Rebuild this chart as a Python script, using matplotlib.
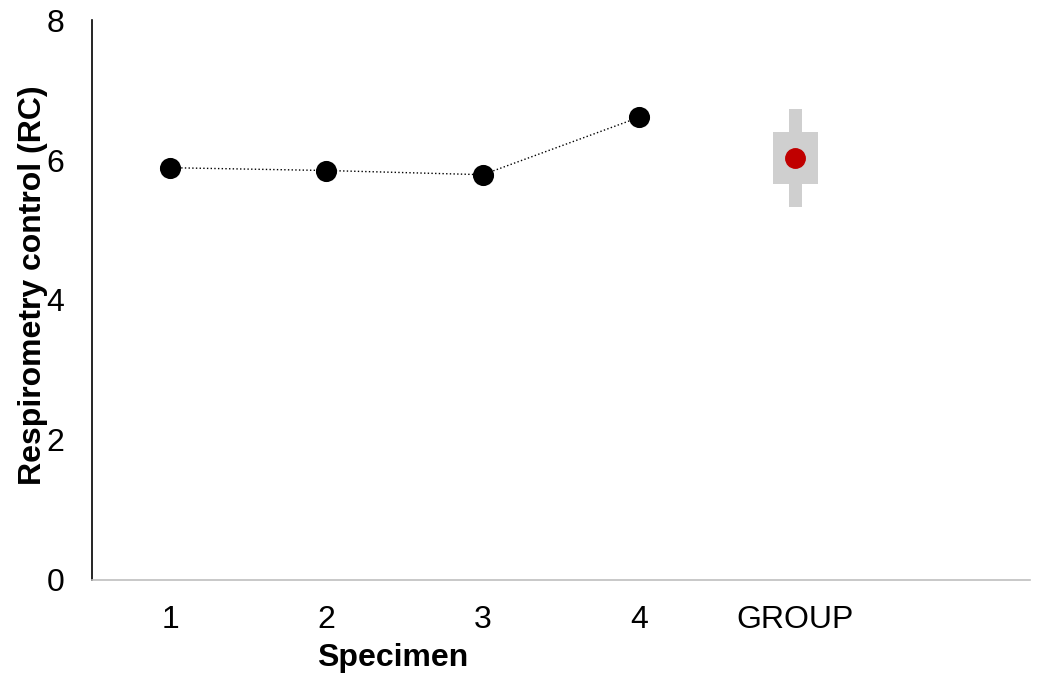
import matplotlib.pyplot as plt
import numpy as np

plt.rcParams['font.family'] = ['Liberation Sans', 'DejaVu Sans']

specimens = ['1', '2', '3', '4']
rc_values = [5.89, 5.85, 5.79, 6.61]

group_label = 'GROUP'
group_mean = 6.03
group_box = (5.66, 6.40)      # inner band
group_whisker = (5.33, 6.73)  # outer range

x_spec = np.arange(1, len(specimens) + 1)
x_group = len(specimens) + 1

fig = plt.figure(figsize=(10.38, 6.74), dpi=100)
ax = fig.add_axes([0.0886, 0.1395, 0.9036, 0.8308])

# group summary: thin whisker bar behind the wider box
ax.bar(x_group, group_whisker[1] - group_whisker[0], bottom=group_whisker[0],
       width=0.083, color='#cfcfcf', zorder=1)
ax.bar(x_group, group_box[1] - group_box[0], bottom=group_box[0],
       width=0.29, color='#cfcfcf', zorder=1)
ax.plot([x_group], [group_mean], 'o', ms=14, color='#c00000', zorder=3)

# individual specimens
ax.plot(x_spec, rc_values, ':', color='black', lw=1, zorder=2)
ax.plot(x_spec, rc_values, 'o', ms=14, color='black', mec='black',
        mew=1.2, zorder=3)

ax.set_xlim(0.5, 6.5)
ax.set_ylim(0, 8)
ax.set_yticks([0, 2, 4, 6, 8])
ax.set_xticks(list(x_spec) + [x_group])
ax.set_xticklabels(specimens + [group_label])
ax.tick_params(axis='both', length=0, labelsize=23)
ax.tick_params(axis='y', pad=20)
ax.tick_params(axis='x', pad=18)

for s in ['top', 'right']:
    ax.spines[s].set_visible(False)
ax.spines['left'].set_color('black')
ax.spines['left'].set_linewidth(1.2)
ax.spines['bottom'].set_color('#bfbfbf')
ax.spines['bottom'].set_linewidth(1.2)

ax.set_xlabel('Specimen', fontsize=23, fontweight='bold')
ax.xaxis.set_label_coords(0.321, -0.112)
ax.set_ylabel('Respirometry control (RC)', fontsize=23, fontweight='bold')
ax.yaxis.set_label_coords(-0.047, 0.527)

fig.savefig('out.png')
